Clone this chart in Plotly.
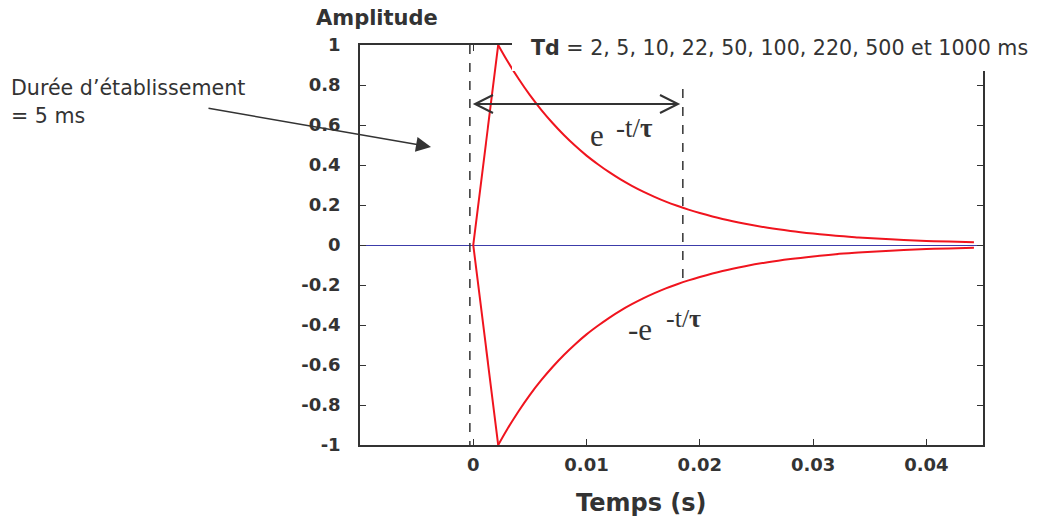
import plotly.graph_objects as go

# Pulse response: linear rise to the peak, then exponential decay (s, amplitude)
rise_times = [0, 0.0022]
rise_upper = [0, 1.0]
rise_lower = [0, -1.0]

decay_times = [0.0022, 0.003, 0.004, 0.005, 0.006, 0.007, 0.008, 0.009, 0.010,
               0.011, 0.012, 0.013, 0.014, 0.015, 0.016, 0.017, 0.018, 0.019, 0.020,
               0.022, 0.024, 0.026, 0.028, 0.030, 0.032, 0.034, 0.036, 0.038, 0.040,
               0.042, 0.0442]
decay_upper = [1.0, 0.921, 0.831, 0.749, 0.676, 0.610, 0.550, 0.496, 0.447,
               0.404, 0.364, 0.328, 0.296, 0.267, 0.241, 0.217, 0.196, 0.177, 0.160,
               0.130, 0.106, 0.086, 0.070, 0.057, 0.046, 0.038, 0.031, 0.025, 0.020,
               0.017, 0.014]
decay_lower = [-1.0, -0.921, -0.831, -0.749, -0.676, -0.610, -0.550, -0.496, -0.447,
               -0.404, -0.364, -0.328, -0.296, -0.267, -0.241, -0.217, -0.196, -0.177, -0.160,
               -0.130, -0.106, -0.086, -0.070, -0.057, -0.046, -0.038, -0.031, -0.025, -0.020,
               -0.017, -0.014]

x_tickvals = [0, 0.01, 0.02, 0.03, 0.04]
x_ticktext = ["0", "0.01", "0.02", "0.03", "0.04"]
y_tickvals = [1, 0.8, 0.6, 0.4, 0.2, 0, -0.2, -0.4, -0.6, -0.8, -1]
y_ticktext = ["1", "0.8", "0.6", "0.4", "0.2", "0", "-0.2", "-0.4", "-0.6", "-0.8", "-1"]

# Reference markers: onset and time constant
t_onset = -0.0003
t_tau = 0.0185

# Plot box in pixels (figure is 1037 x 520)
L, R, T, B = 360, 983, 45, 445
W, H = 1037, 520


def px(x):
    return (x - L) / (R - L)


def py(y):
    return (B - y) / (B - T)


DARK = "#333333"
RED = "#f0141e"
SANS = "DejaVu Sans"
SERIF = "Liberation Serif"

fig = go.Figure()
for xs, ys, shape in [(rise_times, rise_upper, "linear"),
                      (rise_times, rise_lower, "linear"),
                      (decay_times, decay_upper, "spline"),
                      (decay_times, decay_lower, "spline")]:
    fig.add_trace(go.Scatter(x=xs, y=ys, mode="lines",
                             line=dict(color=RED, width=2, shape=shape),
                             hoverinfo="skip"))

shapes = [
    # dashed verticals
    dict(type="line", xref="x", yref="y", x0=t_onset, x1=t_onset, y0=1, y1=-1,
         line=dict(color=DARK, width=1.5, dash="dash")),
    dict(type="line", xref="x", yref="y", x0=t_tau, x1=t_tau, y0=0.78, y1=-0.19,
         line=dict(color=DARK, width=1.5, dash="dash")),
    # double arrow between onset and tau
    dict(type="line", xref="paper", yref="paper", x0=px(475), x1=px(678),
         y0=py(104), y1=py(104), line=dict(color=DARK, width=2)),
    dict(type="path", xref="paper", yref="paper",
         path=f"M {px(493)} {py(95)} L {px(475)} {py(104)} L {px(493)} {py(113)}",
         line=dict(color=DARK, width=2)),
    dict(type="path", xref="paper", yref="paper",
         path=f"M {px(660)} {py(95)} L {px(678)} {py(104)} L {px(660)} {py(113)}",
         line=dict(color=DARK, width=2)),
    # white backdrop behind the Td caption
    dict(type="rect", xref="paper", yref="paper", x0=px(512), x1=px(1040),
         y0=py(-5), y1=py(71), fillcolor="white", line=dict(width=0),
         layer="above"),
]

annotations = [
    dict(text="<b>Amplitude</b>", x=px(377), y=py(18), xref="paper", yref="paper",
         showarrow=False, xanchor="center", yanchor="middle",
         font=dict(family=SANS, size=21, color=DARK)),
    dict(text="<b>Temps (s)</b>", x=px(641), y=py(503), xref="paper", yref="paper",
         showarrow=False, xanchor="center", yanchor="middle",
         font=dict(family=SANS, size=24, color=DARK)),
    dict(text="<b>Td</b> = 2, 5, 10, 22, 50, 100, 220, 500 et 1000 ms",
         x=px(529), y=py(48), xref="paper", yref="paper",
         showarrow=False, xanchor="left", yanchor="middle",
         font=dict(family=SANS, size=20.6, color=DARK)),
    dict(text="Durée d’établissement", x=px(9), y=py(88), xref="paper", yref="paper",
         showarrow=False, xanchor="left", yanchor="middle",
         font=dict(family=SANS, size=20.6, color=DARK)),
    dict(text="= 5 ms", x=px(9), y=py(116), xref="paper", yref="paper",
         showarrow=False, xanchor="left", yanchor="middle",
         font=dict(family=SANS, size=20.6, color=DARK)),
    dict(text="", x=px(431), y=py(147), xref="paper", yref="paper",
         showarrow=True, ax=207 - 431, ay=108 - 147, axref="pixel", ayref="pixel",
         arrowhead=2, arrowsize=2, arrowwidth=1.5, arrowcolor=DARK),
    dict(text="e", x=px(597), y=py(135), xref="paper", yref="paper",
         showarrow=False, xanchor="center", yanchor="middle",
         font=dict(family=SERIF, size=31, color=DARK)),
    dict(text="-t/<b>τ</b>", x=px(614), y=py(128), xref="paper", yref="paper",
         showarrow=False, xanchor="left", yanchor="middle",
         font=dict(family=SERIF, size=27, color=DARK)),
    dict(text="-e", x=px(640), y=py(329), xref="paper", yref="paper",
         showarrow=False, xanchor="center", yanchor="middle",
         font=dict(family=SERIF, size=31, color=DARK)),
    dict(text="-t/<b>τ</b>", x=px(664), y=py(318), xref="paper", yref="paper",
         showarrow=False, xanchor="left", yanchor="middle",
         font=dict(family=SERIF, size=26, color=DARK)),
]

tickfont = dict(family=SANS, size=18, color=DARK, weight="bold")

fig.update_layout(
    width=W, height=H,
    margin=dict(l=L, r=W - R, t=T, b=H - B, pad=0),
    paper_bgcolor="white", plot_bgcolor="white",
    showlegend=False,
    shapes=shapes,
    annotations=annotations,
    xaxis=dict(range=[-0.01, 0.045], tickvals=x_tickvals, ticktext=x_ticktext,
               ticks="inside", ticklen=6, tickwidth=1, tickcolor=DARK,
               showline=True, linecolor=DARK, linewidth=1.5, mirror="ticks",
               showgrid=False, zeroline=False, tickfont=tickfont,
               ticklabelstandoff=3),
    yaxis=dict(range=[-1, 1], tickvals=y_tickvals, ticktext=y_ticktext,
               ticks="inside", ticklen=6, tickwidth=1, tickcolor=DARK,
               showline=True, linecolor=DARK, linewidth=1.5, mirror="ticks",
               showgrid=False, zeroline=True, zerolinecolor="#3c3caa",
               zerolinewidth=1, tickfont=tickfont, ticklabelstandoff=14),
)

fig.write_html("out.html")
